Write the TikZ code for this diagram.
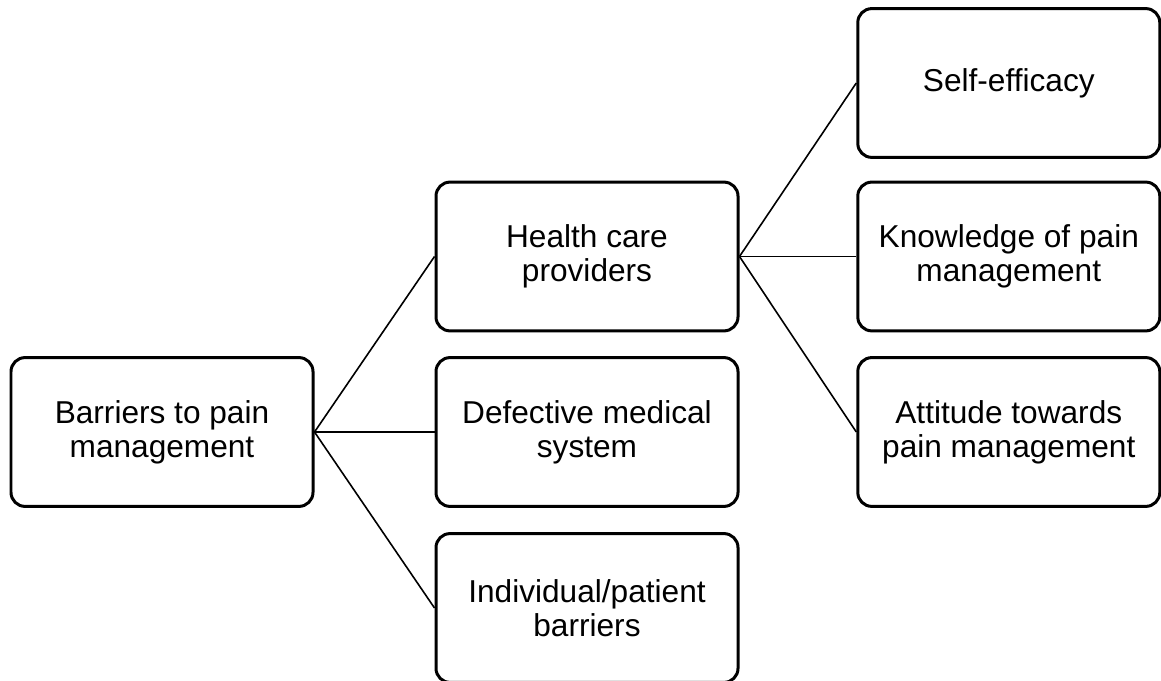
\documentclass[tikz,border=0pt]{standalone}
\usepackage{fontspec}
\setmainfont{Liberation Sans}
\begin{document}
\begin{tikzpicture}[
	box/.style={draw=black, line width=0.075cm, rounded corners=0.35cm, align=center,
		minimum width=7.55cm, minimum height=3.72cm, inner sep=0pt,
		font=\fontsize{22.5}{24.4}\selectfont},
	link/.style={draw=black, line width=0.04cm}]
	\useasboundingbox (0,0) rectangle (29.025,17.025);
	
	\node[box] (barriers) at (4.05,6.225) {Barriers to pain\\management};
	
	\node[box] (providers) at (14.675,10.6125) {Health care\\providers};
	\node[box] (system) at (14.675,6.225) {Defective medical\\system};
	\node[box] (patient) at (14.675,1.825) {Individual/patient\\barriers};
	
	\node[box] (efficacy) at (25.22,14.95) {Self-efficacy};
	\node[box] (knowledge) at (25.22,10.6125) {Knowledge of pain\\management};
	\node[box] (attitude) at (25.22,6.225) {Attitude towards\\pain management};
	
	\draw[link] (barriers.east) -- (providers.west);
	\draw[link] (barriers.east) -- (system.west);
	\draw[link] (barriers.east) -- (patient.west);
	
	\draw[link] (providers.east) -- (efficacy.west);
	\draw[link] (providers.east) -- (knowledge.west);
	\draw[link] (providers.east) -- (attitude.west);
\end{tikzpicture}
\end{document}
